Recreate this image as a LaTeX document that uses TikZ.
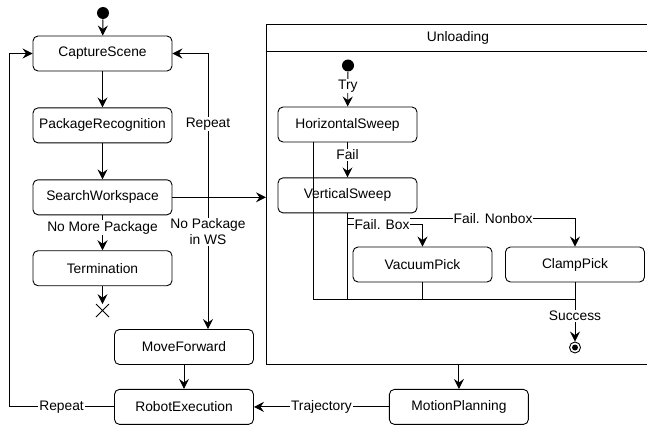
\documentclass[tikz,border=0pt]{standalone}
\usepackage{fontspec}
\setmainfont{Liberation Sans}
\usetikzlibrary{positioning,arrows.meta}
\tikzset{mystate/.style={
  shape=rectangle,
  draw=black,
  rounded corners=5pt,
  minimum width=139pt,
  minimum height=35pt,
  text = black,
  }
}
\tikzset{mylabel/.style={
  fill=white,
  inner sep=1pt,
  text = black,
  }
}
\tikzset{mystart/.style={
  shape=circle,
  fill=black,
  minimum size=12pt,
  inner sep=0pt,
  }
}
\tikzset{myend/.style={
  shape=circle,
  draw=black,
  minimum size=11pt,
  inner sep=0pt,
  }
}
\tikzset{myarrow/.style={
  -{Stealth[length=10pt,width=10pt,inset=3.5pt]},
  }
}

\begin{document}
\begin{tikzpicture}[x=1pt,y=-1pt,line width=0.9pt,font=\fontsize{13.8}{16}\selectfont]
  \useasboundingbox (0,0) rectangle (647,425);
  \clip (0,0) rectangle (647,425);

  % main loop
  \node [mystart] (s1) at (103,13) { };
  \node [mystate] (cs) at (102.5,53.5) {CaptureScene};
  \node [mystate, below=36pt of cs] (pr) {PackageRecognition};
  \node [mystate, below=36pt of pr] (sw) {SearchWorkspace};
  \node [mystate, below=35pt of sw] (tm) {Termination};
  \node [below=18pt of tm, minimum size=12pt, inner sep=0pt] (x1) { };
  \node [mystate] (mf) at (184,347) {MoveForward};
  \node [mystate, below=24pt of mf] (re) {RobotExecution};
  \node [mystate, right=135pt of re] (mp) {MotionPlanning};

  % unloading (open at the right, past the page edge)
  \coordinate (ulnw) at (266,24);
  \coordinate (ulsw) at (266,364);
  \draw (ulnw) ++(420,0) -- (ulnw) -- (ulsw) -- ++(420,0);
  \draw (ulnw) ++(0,27) -- ++(420,0);
  \node (ult) at (458,38) {Unloading};
  \node [mystart] (s2) at (348,65.5) { };
  \node [mystate] (hs) at (347.5,124.5) {HorizontalSweep};
  \node [mystate, below=35pt of hs] (vs) {VerticalSweep};
  \node [mystate] (vp) at (422.5,264.5) {VacuumPick};
  \node [mystate] (cp) at (575,264.5) {ClampPick};
  \node [myend] (fin) at (575,347.5) { };
  \fill (fin.center) circle (3pt);
  \coordinate (m1) at (313,299);
  \coordinate (br) at (208,194);

  \draw [myarrow] (s1) -- (cs);
  \draw [myarrow] (cs) -- (pr);
  \draw [myarrow] (pr) -- (sw);
  \draw [myarrow] (sw) -- node [mylabel, pos=0.35] {No More Package} (tm);
  \draw [myarrow] (tm) -- (x1.north);
  \draw (x1.north west) -- (x1.south east) (x1.north east) -- (x1.south west);
  \draw [myarrow] (sw.east) -- (sw.east -| ulnw);
  \draw [myarrow] (br) -- node [mylabel] {Repeat} (br |- cs.east) -- (cs.east);
  \draw [myarrow] (br) -- node [mylabel, pos=0.28, align=center] {No Package\\in WS} (br |- mf.north);
  \draw [myarrow] (mf) -- (re);
  \draw [myarrow] (re.west) -- node [mylabel] {Repeat} ++(-105,0) |- (cs.west);
  \draw [myarrow] (mp) -- node [mylabel] {Trajectory} (re);
  \draw [myarrow] (mp.north |- ulsw) -- (mp.north);

  \draw [myarrow] (s2) -- node [mylabel, pos=0.4] {Try} (hs);
  \draw [myarrow] (hs) -- node [mylabel, pos=0.35] {Fail} (vs);
  \draw [myarrow] (vs.south) -- ++(0,5) -| node [mylabel, pos=0.32] {Fail. Nonbox} (cp.north);
  \draw [myarrow] (vs.south) -- ++(0,11) -| node [mylabel, pos=0.23] {Fail. Box} (vp.north);
  \draw (hs.south -| m1) -- (m1) -- (m1 -| cp.south);
  \draw (vs.south) -- (vs.south |- m1);
  \draw (vp.south) -- (vp.south |- m1);
  \draw [myarrow] (cp.south) -- node [mylabel, pos=0.57] {Success} (fin.north);
\end{tikzpicture}
\end{document}
